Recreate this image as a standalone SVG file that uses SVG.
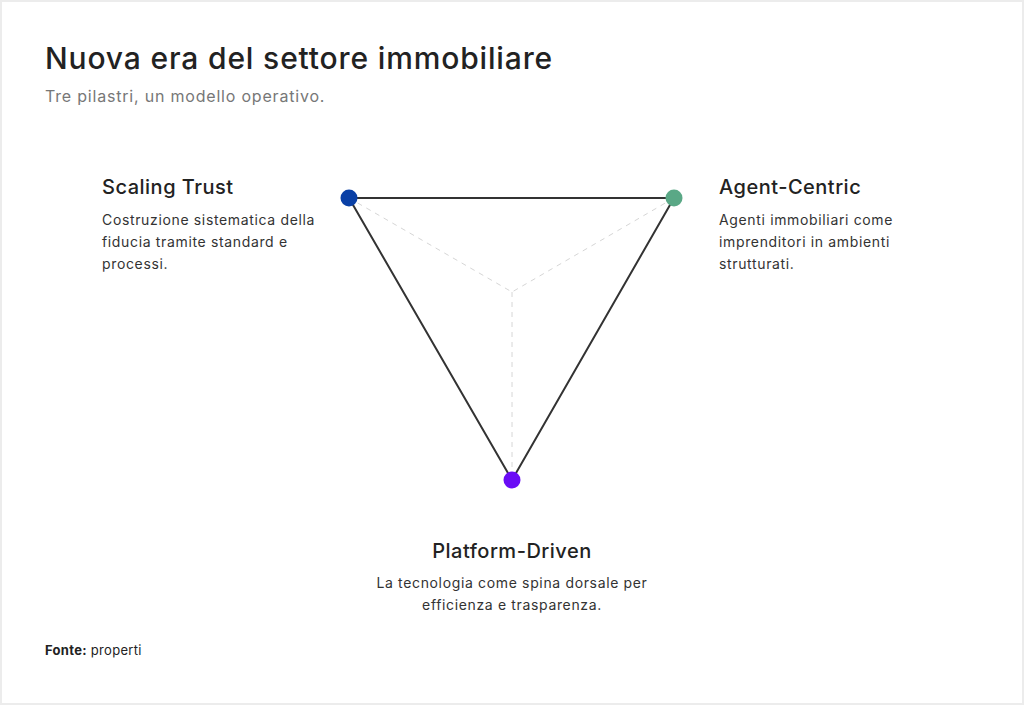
<svg xmlns="http://www.w3.org/2000/svg" width="1024" height="705" viewBox="0 0 1024 705">
<style>
text{font-family:Inter,"Liberation Sans",sans-serif;fill:#222}
.h{font-size:20px;font-weight:500;letter-spacing:0.5px}
.d{font-size:14px;fill:#333;letter-spacing:0.65px}
.dash{stroke:#d6d6d6;stroke-width:1;stroke-dasharray:5 5;fill:none}
</style>
<rect width="1024" height="705" fill="#ececec"/>
<rect x="2" y="2" width="1020" height="701" fill="#fff"/>
<text x="45" y="69" style="font-size:30px;font-weight:500;letter-spacing:0.85px" fill="#1e2124">Nuova era del settore immobiliare</text>
<text x="45" y="102" style="font-size:16px;fill:#777;letter-spacing:0.8px">Tre pilastri, un modello operativo.</text>
<g id="connectors">
<path class="dash" d="M349 198L512 292L674 198M512 292V480"/>
<path d="M349 198H674L512 480Z" fill="none" stroke="#333" stroke-width="2"/>
</g>
<g id="scaling"><circle cx="349" cy="198" r="8.5" fill="#0a40a6"/>
<text class="h" x="102" y="194">Scaling Trust</text>
<text class="d" x="102" y="225">Costruzione sistematica della</text>
<text class="d" x="102" y="247">fiducia tramite standard e</text>
<text class="d" x="102" y="269">processi.</text></g>
<g id="agent"><circle cx="674" cy="198" r="8.5" fill="#5aa886"/>
<text class="h" x="719" y="194">Agent-Centric</text>
<text class="d" x="719" y="225">Agenti immobiliari come</text>
<text class="d" x="719" y="247">imprenditori in ambienti</text>
<text class="d" x="719" y="269">strutturati.</text></g>
<g id="platform"><circle cx="512" cy="480" r="8.5" fill="#6a0cf5"/>
<text class="h" x="512" y="558" text-anchor="middle">Platform-Driven</text>
<text class="d" x="512" y="588" text-anchor="middle">La tecnologia come spina dorsale per</text>
<text class="d" x="512" y="610" text-anchor="middle">efficienza e trasparenza.</text></g>
<text x="45" y="655" style="font-size:13px;letter-spacing:0.3px"><tspan font-weight="700">Fonte:</tspan> properti</text>
</svg>
